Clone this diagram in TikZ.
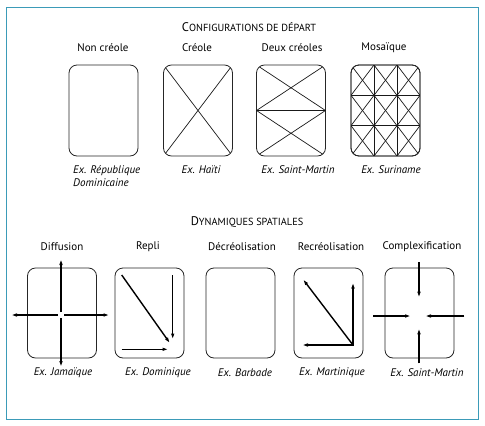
\documentclass[tikz,border=0pt]{standalone}
\usepackage{fontspec}
\setmainfont{PT Sans}
\usetikzlibrary{arrows.meta}
\definecolor{framecol}{HTML}{3B9BB8}
\begin{document}
\begin{tikzpicture}[x=1pt,y=-1pt,
  cbox/.style={draw=black!85,line width=0.8pt,rounded corners=8pt,minimum width=69pt,minimum height=90pt,inner sep=0pt,outer sep=0pt},
  lab/.style={font=\fontsize{11}{12}\selectfont,inner sep=0pt},
  exl/.style={font=\fontsize{11}{13}\selectfont\itshape,inner sep=0pt},
  ttl/.style={inner sep=0pt},
  thin/.style={line width=0.7pt,black!90},
  arr/.style={line width=1.4pt,-{Latex[length=6pt,width=3.6pt]}}
]
\useasboundingbox (0,0) rectangle (485,426);
\draw[framecol,line width=1pt] (6,7) rectangle (478,419);

% titles
\node[ttl] (t1) at (249,27) {{\fontsize{12.5}{13}\selectfont C}{\fontsize{10.3}{13}\selectfont ONFIGURATIONS DE DÉPART}};
\node[ttl] (t2) at (247,222) {{\fontsize{12.5}{13}\selectfont D}{\fontsize{10.3}{13}\selectfont YNAMIQUES SPATIALES}};

% top row
\node[lab] (l1) at (103,48) {Non créole};
\node[lab] (l2) at (197,48) {Créole};
\node[lab] (l3) at (292,48) {Deux créoles};
\node[lab] (l4) at (384,48) {Mosaïque};

\node[cbox,minimum height=91pt] (b1) at (103.5,110.5) {};
\node[cbox,minimum height=91pt] (b2) at (198,110.5) {};
\node[cbox,minimum height=91pt] (b3) at (291,110.5) {};
\node[cbox,minimum height=91pt] (b4) at (385.5,110.5) {};

\begin{scope}
\clip[rounded corners=8pt] (b2.north west) rectangle (b2.south east);
\draw[thin] (b2.north west) -- (b2.south east);
\draw[thin] (b2.north east) -- (b2.south west);
\end{scope}

\begin{scope}
\clip[rounded corners=8pt] (b3.north west) rectangle (b3.south east);
\draw[thin] (b3.west) -- (b3.east);
\draw[thin] (b3.north west) -- (b3.east);
\draw[thin] (b3.north east) -- (b3.west);
\draw[thin] (b3.west) -- (b3.south east);
\draw[thin] (b3.east) -- (b3.south west);
\end{scope}

\begin{scope}
\clip[rounded corners=8pt] (b4.north west) rectangle (b4.south east);
\begin{scope}[shift={(b4.north west)}]
\foreach \i in {1,2} {
  \draw[thin] (\i*23,0) -- (\i*23,91);
  \draw[thin] (0,\i*91/3) -- (69,\i*91/3);
}
\foreach \i in {0,1,2} {
  \foreach \j in {0,1,2} {
    \draw[thin] (\i*23,\j*91/3) -- (\i*23+23,\j*91/3+91/3);
    \draw[thin] (\i*23+23,\j*91/3) -- (\i*23,\j*91/3+91/3);
  }
}
\end{scope}
\end{scope}
\draw[black!85,line width=0.8pt,rounded corners=8pt] (b4.north west) rectangle (b4.south east);

\node[exl,anchor=west,align=left] (e1) at (73,176.5) {Ex. République\\Dominicaine};
\node[exl] (e2) at (201,170) {Ex. Haïti};
\node[exl] (e3) at (298,170) {Ex. Saint-Martin};
\node[exl] (e4) at (391,170) {Ex. Suriname};

% bottom row
\node[lab] (m1) at (62,247) {Diffusion};
\node[lab] (m2) at (148,247) {Repli};
\node[lab] (m3) at (242,247) {Décréolisation};
\node[lab] (m4) at (331,247) {Recréolisation};
\node[lab] (m5) at (422,247) {Complexification};

\node[cbox] (d1) at (62,313) {};
\node[cbox] (d2) at (149.5,313) {};
\node[cbox] (d3) at (240.5,313) {};
\node[cbox] (d4) at (328.5,313) {};
\node[cbox] (d5) at (419.5,313) {};

% Diffusion
\coordinate (dc) at (61,315);
\coordinate (dN) at (61,259);
\coordinate (dS) at (61,367);
\coordinate (dW) at (11,315);
\coordinate (dE) at (109.5,315);
\draw[arr] ([yshift=3pt]dc) -- (dN);
\draw[arr] ([yshift=-3pt]dc) -- (dS);
\draw[arr] ([xshift=-3pt]dc) -- (dW);
\draw[arr] ([xshift=3pt]dc) -- (dE);

% Repli
\coordinate (r1a) at (121.7,275);
\coordinate (r1b) at (170,343.3);
\coordinate (r2a) at (172.7,275);
\coordinate (r2b) at (172.7,339.5);
\coordinate (r3a) at (121.7,349.3);
\coordinate (r3b) at (168.5,349.3);
\draw[arr] (r1a) -- (r1b);
\draw[arr] (r2a) -- (r2b);
\draw[arr] (r3a) -- (r3b);

% Recreolisation
\coordinate (rc) at (353,345);
\coordinate (rcD) at (303,279.3);
\coordinate (rcN) at (353,282.5);
\coordinate (rcW) at (302,345);
\draw[arr] (rc) -- (rcD);
\draw[arr] ([yshift=0.7pt]rc) -- (rcN);
\draw[arr] ([xshift=0.7pt]rc) -- (rcW);

% Complexification
\coordinate (cN0) at (419,262.3);
\coordinate (cN1) at (419,297.7);
\coordinate (cS0) at (419,363.3);
\coordinate (cS1) at (419,328.3);
\coordinate (cW0) at (373.3,316);
\coordinate (cW1) at (411,316);
\coordinate (cE0) at (464.3,316);
\coordinate (cE1) at (425,316);
\draw[arr] (cN0) -- (cN1);
\draw[arr] (cS0) -- (cS1);
\draw[arr] (cW0) -- (cW1);
\draw[arr] (cE0) -- (cE1);

\node[exl] (f1) at (63,373) {Ex. Jamaïque};
\node[exl] (f2) at (158,373) {Ex. Dominique};
\node[exl] (f3) at (245,373) {Ex. Barbade};
\node[exl] (f4) at (332,373) {Ex. Martinique};
\node[exl] (f5) at (427,373) {Ex. Saint-Martin};
\end{tikzpicture}
\end{document}
